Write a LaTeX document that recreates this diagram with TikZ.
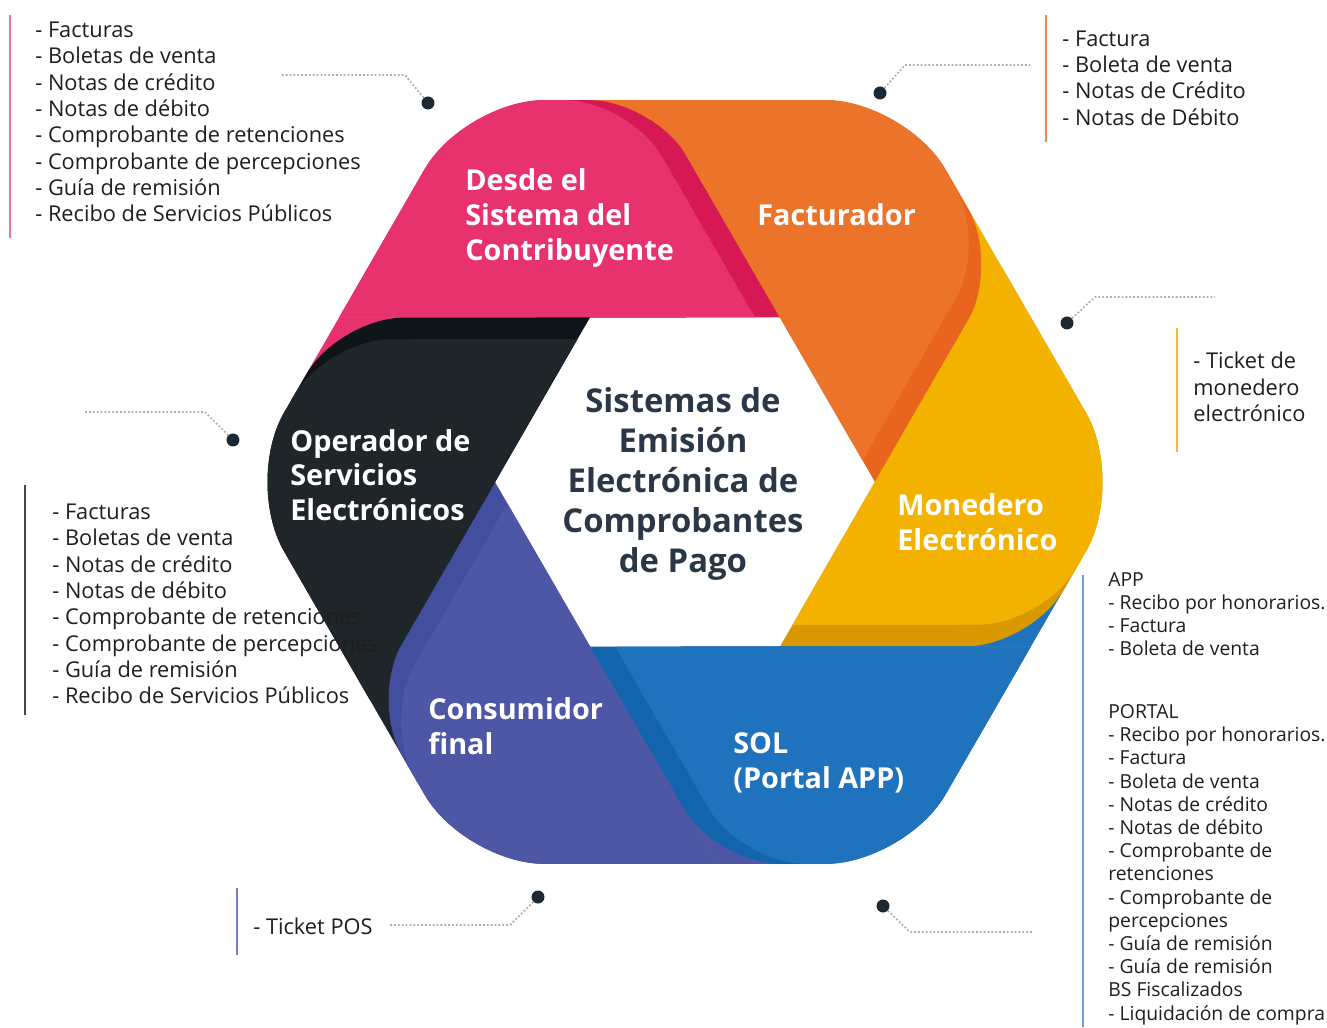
\documentclass[tikz,border=0pt]{standalone}
\usepackage{fontspec}
\setmainfont{Open Sans}
\usepackage{tikz}
\usetikzlibrary{calc,positioning}

\definecolor{pinkA}{RGB}{231,50,110}
\definecolor{pinkD}{RGB}{214,24,84}
\definecolor{orangeA}{RGB}{236,115,42}
\definecolor{orangeD}{RGB}{233,100,30}
\definecolor{yellowA}{RGB}{244,178,0}
\definecolor{yellowD}{RGB}{218,152,0}
\definecolor{blueA}{RGB}{30,115,188}
\definecolor{blueD}{RGB}{18,100,172}
\definecolor{purpleA}{RGB}{77,87,166}
\definecolor{purpleD}{RGB}{68,78,158}
\definecolor{blackA}{RGB}{30,38,42}
\definecolor{blackD}{RGB}{14,20,24}
\definecolor{textdark}{RGB}{30,30,30}
\definecolor{titlecol}{RGB}{42,55,70}
\definecolor{dotcol}{RGB}{28,40,50}
\definecolor{pinkbar}{RGB}{240,120,150}
\definecolor{orangebar}{RGB}{240,140,70}
\definecolor{yellowbar}{RGB}{246,185,50}
\definecolor{darkbar}{RGB}{70,70,70}
\definecolor{purplebar}{RGB}{120,125,205}
\definecolor{bluebar}{RGB}{110,155,220}

\newcommand\segR{1.3cm}
\newcommand\hexR{1.6cm}
\newcommand\bandW{0.5cm}
% rounded corner at #1, coming from #2, leaving towards #3, radius #4
\newcommand\cornerto[4]{-- ($(#1)!#4!(#2)$) .. controls ($(#1)!0.45*#4!(#2)$) and ($(#1)!0.45*#4!(#3)$) .. ($(#1)!#4!(#3)$)}

\begin{document}
\begin{tikzpicture}[x=0.02cm, y=0.02cm,
    seglabel/.style={anchor=west, align=left, text=white, inner sep=0pt, font=\bfseries\fontsize{16.4}{19.8}\selectfont},
    listbox/.style={anchor=west, align=left, text=textdark, inner sep=0pt, font=\fontsize{12.4}{15}\selectfont},
    smalllist/.style={listbox, font=\fontsize{11}{13.2}\selectfont},
    dotmark/.style={circle, fill=dotcol, inner sep=0pt, minimum size=0.26cm},
    leader/.style={gray!65, line width=1pt, dash pattern=on 1pt off 1.2pt},
    bar/.style={line width=1.6pt}
]
\useasboundingbox (-685,482) rectangle (642,-545);

\foreach \t [count=\i] in {120,60,0,-60,-120,180} {
    \coordinate (o\i) at (\t:441);
    \coordinate (c\i) at (\t-60:190);
    \coordinate (a\i) at (\t+34.6:383.1);
}

% the six pieces of the ring
\foreach \i/\cm/\cd/\cn in {1/pinkA/pinkD/orangeA, 2/orangeA/orangeD/yellowA, 3/yellowA/yellowD/blueA,
    4/blueA/blueD/purpleA, 5/purpleA/purpleD/blackA, 6/blackA/blackD/pinkA} {
    \pgfmathtruncatemacro\j{mod(\i,6)+1}
    \fill[\cn] (c\i) -- (a\j) -- ($(a\j)!0.5!(o\i)$) -- cycle;
    \fill[\cd] (a\i) -- (c\i) \cornerto{a\j}{c\i}{o\i}{\segR} \cornerto{o\i}{a\j}{a\i}{\hexR} -- cycle;
    \coordinate (ci) at ($(c\i)!\bandW!(a\i)$);
    \coordinate (aj) at ($(a\j)!\bandW!(o\i)$);
    \fill[\cm] (a\i) -- (ci) \cornerto{aj}{ci}{o\i}{\segR} \cornerto{o\i}{aj}{a\i}{\hexR} -- cycle;
}

\node[font=\bfseries\fontsize{18.7}{22.7}\selectfont, text=titlecol, align=center, inner sep=0pt] (title) at (-2,-2)
    {Sistemas de\\Emisión\\Electrónica de\\Comprobantes\\de Pago};

\node[seglabel] (desde) at (-220,264) {Desde el\\Sistema del\\Contribuyente};
\node[seglabel] (factu) at (72,267) {Facturador};
\node[seglabel] (monedero) at (212,-40.5) {Monedero\\Electrónico};
\node[seglabel] (sol) at (48,-280.5) {SOL\\(Portal APP)};
\node[seglabel] (consumidor) at (-257,-244.5) {Consumidor\\final};
\node[seglabel] (operador) at (-395,7) {Operador de\\Servicios\\Electrónicos};

% lists
\draw[bar, pinkbar] (-675,467) -- (-675,244);
\node[listbox] (listdesde) at (-650,360) {- Facturas\\- Boletas de venta\\- Notas de crédito\\- Notas de débito\\- Comprobante de retenciones\\- Comprobante de percepciones\\- Guía de remisión\\- Recibo de Servicios Públicos};

\draw[bar, orangebar] (361,467) -- (361,340);
\node[listbox] (listfactu) at (377,404) {- Factura\\- Boleta de venta\\- Notas de Crédito\\- Notas de Débito};

\draw[bar, yellowbar] (492,154) -- (492,30);
\node[listbox] (listmonedero) at (508,95) {- Ticket de\\monedero\\electrónico};

\draw[bar, darkbar] (-660,-3) -- (-660,-233);
\node[listbox] (listoperador) at (-633,-122) {- Facturas\\- Boletas de venta\\- Notas de crédito\\- Notas de débito\\- Comprobante de retenciones\\- Comprobante de percepciones\\- Guía de remisión\\- Recibo de Servicios Públicos};

\draw[bar, purplebar] (-448,-406) -- (-448,-473);
\node[listbox] (listconsumidor) at (-432,-444) {- Ticket POS};

\draw[bar, bluebar] (398,-93) -- (398,-545);
\node[smalllist] (listsol) at (423,-316.5) {APP\\- Recibo por honorarios.\\- Factura\\- Boleta de venta\\[22.5pt]PORTAL\\- Recibo por honorarios.\\- Factura\\- Boleta de venta\\- Notas de crédito\\- Notas de débito\\- Comprobante de\\retenciones\\- Comprobante de\\percepciones\\- Guía de remisión\\- Guía de remisión\\BS Fiscalizados\\- Liquidación de compra};

% callout dots
\node[dotmark] (dot1) at (-257,379) {};
\coordinate (k1) at (-280,407);
\coordinate (e1) at (-405,407);
\draw[leader] (dot1) -- (k1) -- (e1);

\node[dotmark] (dot2) at (195,389) {};
\coordinate (k2) at (220,417);
\coordinate (e2) at (345,417);
\draw[leader] (dot2) -- (k2) -- (e2);

\node[dotmark] (dot3) at (382,159) {};
\coordinate (k3) at (410,185);
\coordinate (e3) at (530,185);
\draw[leader] (dot3) -- (k3) -- (e3);

\node[dotmark] (dot4) at (-452,42) {};
\coordinate (k4) at (-480,70);
\coordinate (e4) at (-600,70);
\draw[leader] (dot4) -- (k4) -- (e4);

\node[dotmark] (dot5) at (-147,-415) {};
\coordinate (k5) at (-175,-443);
\coordinate (e5) at (-297,-443);
\draw[leader] (dot5) -- (k5) -- (e5);

\node[dotmark] (dot6) at (198,-424) {};
\coordinate (k6) at (225,-450);
\coordinate (e6) at (348,-450);
\draw[leader] (dot6) -- (k6) -- (e6);
\end{tikzpicture}
\end{document}
